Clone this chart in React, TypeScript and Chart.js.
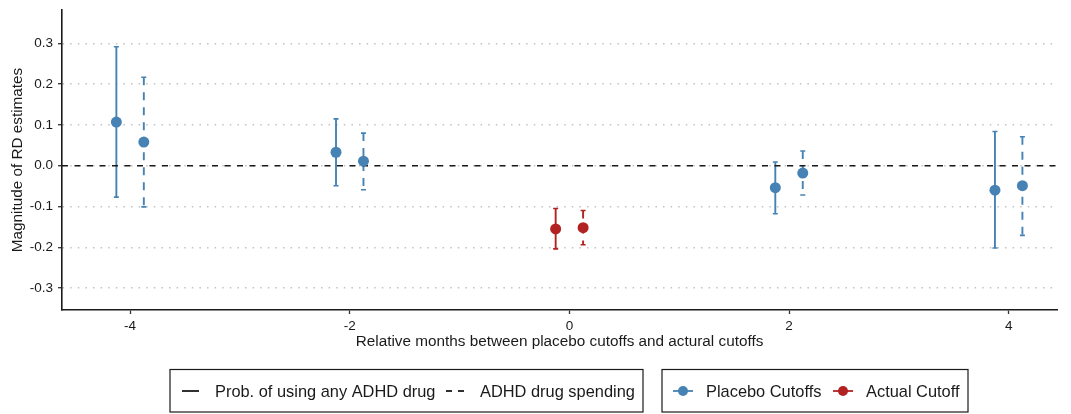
import { useEffect, useRef } from "react";
import { Chart, registerables } from "chart.js";

Chart.register(...registerables);

// Cutoff positions (months relative to the actual cutoff) and their kind
const cutoffMonths = [-4, -2, 0, 2, 4];
const cutoffKind = ["placebo", "placebo", "actual", "placebo", "placebo"];

// RD estimates with confidence bounds: probability of using any ADHD drug
const anyDrugEst = [0.107, 0.033, -0.155, -0.054, -0.06];
const anyDrugLow = [-0.077, -0.049, -0.204, -0.118, -0.202];
const anyDrugHigh = [0.292, 0.115, -0.105, 0.009, 0.084];

// RD estimates with confidence bounds: ADHD drug spending
const spendEst = [0.058, 0.011, -0.152, -0.018, -0.049];
const spendLow = [-0.101, -0.059, -0.194, -0.072, -0.171];
const spendHigh = [0.217, 0.08, -0.11, 0.036, 0.071];

// Axis ticks
const xTicks = [-4, -2, 0, 2, 4];
const yTicks = [-0.3, -0.2, -0.1, 0, 0.1, 0.2, 0.3];

const lineLegend = ["Prob. of using any ADHD drug", "ADHD drug spending"];
const colorLegend = ["Placebo Cutoffs", "Actual Cutoff"];

const BLUE = "#4682B4";
const RED = "#B22222";
const INK = "#1a1a1a";
const FONT = '"Liberation Sans", Arial, Helvetica, sans-serif';
const DODGE = 0.125;
const X_MIN = -4.62;
const X_MAX = 4.44;

const kindColor = (k: string) => (k === "actual" ? RED : BLUE);

const makePoints = (est: number[], lo: number[], hi: number[], shift: number) =>
  cutoffMonths.map((m, i) => ({ x: m + shift, y: est[i], lo: lo[i], hi: hi[i] }));

// Draws vertical confidence intervals with small caps beneath the points
const errorBarPlugin = {
  id: "errorBars",
  beforeDatasetsDraw(chart: any) {
    const { ctx, scales } = chart;
    const xs = scales.x;
    const ys = scales.y;
    chart.data.datasets.forEach((ds: any) => {
      if (!ds.errorDash) return;
      ds.data.forEach((pt: any, i: number) => {
        const px = xs.getPixelForValue(pt.x);
        const top = ys.getPixelForValue(pt.hi);
        const bot = ys.getPixelForValue(pt.lo);
        ctx.save();
        ctx.strokeStyle = kindColor(cutoffKind[i]);
        ctx.lineWidth = 1.9;
        ctx.setLineDash(ds.errorDash);
        ctx.beginPath();
        ctx.moveTo(px, top);
        ctx.lineTo(px, bot);
        ctx.stroke();
        ctx.setLineDash([]);
        ctx.lineWidth = 1.6;
        ctx.beginPath();
        ctx.moveTo(px - 2.5, top);
        ctx.lineTo(px + 2.5, top);
        ctx.moveTo(px - 2.5, bot);
        ctx.lineTo(px + 2.5, bot);
        ctx.stroke();
        ctx.restore();
      });
    });
  },
};

// Two framed legends below the plot: line type and cutoff colour
const legendPlugin = {
  id: "framedLegend",
  afterDraw(chart: any) {
    const { ctx } = chart;
    const yMid = 391;
    ctx.save();
    ctx.font = `16.4px ${FONT}`;
    ctx.fillStyle = INK;
    ctx.textBaseline = "alphabetic";

    // frames
    ctx.strokeStyle = INK;
    ctx.lineWidth = 1.2;
    ctx.strokeRect(170, 369.5, 473, 42.5);
    ctx.strokeRect(662, 369.5, 306, 42.5);

    // linetype keys
    ctx.strokeStyle = INK;
    ctx.lineWidth = 1.8;
    ctx.beginPath();
    ctx.moveTo(182, yMid);
    ctx.lineTo(199, yMid);
    ctx.stroke();
    ctx.fillText(lineLegend[0], 215, yMid + 6);

    ctx.setLineDash([6, 6]);
    ctx.beginPath();
    ctx.moveTo(446, yMid);
    ctx.lineTo(465, yMid);
    ctx.stroke();
    ctx.setLineDash([]);
    ctx.fillText(lineLegend[1], 480, yMid + 6);

    // colour keys
    const keys = [
      { x0: 673, color: BLUE, tx: 706, label: colorLegend[0] },
      { x0: 833, color: RED, tx: 866, label: colorLegend[1] },
    ];
    keys.forEach((k) => {
      ctx.strokeStyle = k.color;
      ctx.fillStyle = k.color;
      ctx.lineWidth = 1.8;
      ctx.beginPath();
      ctx.moveTo(k.x0, yMid);
      ctx.lineTo(k.x0 + 20, yMid);
      ctx.stroke();
      ctx.beginPath();
      ctx.arc(k.x0 + 10, yMid, 5, 0, Math.PI * 2);
      ctx.fill();
      ctx.fillStyle = INK;
      ctx.fillText(k.label, k.tx, yMid + 6);
    });
    ctx.restore();
  },
};

export default function App() {
  const canvasRef = useRef<HTMLCanvasElement | null>(null);

  useEffect(() => {
    document.body.style.margin = "0";
    const canvas = canvasRef.current;
    if (!canvas) return;

    const chart = new Chart(canvas, {
      type: "scatter",
      data: {
        datasets: [
          {
            type: "line",
            label: "zero",
            data: [
              { x: X_MIN, y: 0 },
              { x: X_MAX, y: 0 },
            ],
            borderColor: INK,
            borderWidth: 1.5,
            borderDash: [6, 6.5],
            pointRadius: 0,
            order: 10,
          } as any,
          {
            label: lineLegend[0],
            data: makePoints(anyDrugEst, anyDrugLow, anyDrugHigh, -DODGE),
            pointRadius: 5.5,
            pointBorderWidth: 0,
            pointBackgroundColor: cutoffKind.map(kindColor),
            errorDash: [],
            order: 0,
          } as any,
          {
            label: lineLegend[1],
            data: makePoints(spendEst, spendLow, spendHigh, DODGE),
            pointRadius: 5.5,
            pointBorderWidth: 0,
            pointBackgroundColor: cutoffKind.map(kindColor),
            errorDash: [8, 7],
            order: 0,
          } as any,
        ],
      },
      options: {
        responsive: false,
        animation: false,
        devicePixelRatio: 1,
        layout: { padding: { top: 10, right: 14, bottom: 60, left: 0 } },
        plugins: {
          legend: { display: false },
          tooltip: { enabled: false },
        },
        scales: {
          x: {
            type: "linear",
            min: X_MIN,
            max: X_MAX,
            afterBuildTicks: (scale: any) => {
              scale.ticks = xTicks.map((v) => ({ value: v }));
            },
            afterFit: (scale: any) => {
              scale.height = 44;
              scale.paddingLeft = 0;
              scale.paddingRight = 0;
            },
            ticks: {
              color: INK,
              font: { family: FONT, size: 13.5 },
              padding: 4,
              maxRotation: 0,
              callback: (v: any) => String(v),
            },
            grid: {
              display: true,
              drawOnChartArea: false,
              drawTicks: true,
              tickLength: 4,
              tickColor: "#333",
              tickWidth: 1.3,
            },
            border: { display: true, color: INK, width: 1.6 },
            title: {
              display: true,
              text: "Relative months between placebo cutoffs and actural cutoffs",
              color: INK,
              font: { family: FONT, size: 15.3 },
              padding: { top: 0, bottom: 3 },
            },
          },
          y: {
            type: "linear",
            min: -0.354,
            max: 0.382,
            afterBuildTicks: (scale: any) => {
              scale.ticks = yTicks.map((v) => ({ value: v }));
            },
            afterFit: (scale: any) => {
              scale.width = 62;
              scale.paddingTop = 0;
              scale.paddingBottom = 0;
            },
            ticks: {
              color: INK,
              font: { family: FONT, size: 13.5 },
              padding: 5,
              callback: (v: any) => Number(v).toFixed(1),
            },
            grid: {
              display: true,
              drawOnChartArea: true,
              drawTicks: true,
              color: "#c2c2c2",
              lineWidth: 1.4,
              tickLength: 4,
              tickColor: "#333",
              tickWidth: 1.3,
              tickBorderDash: [],
            },
            border: { display: true, color: INK, width: 1.6, dash: [1.5, 6.1] },
            title: {
              display: true,
              text: "Magnitude of RD estimates",
              color: INK,
              font: { family: FONT, size: 15.3 },
              padding: { top: 9, bottom: 0 },
            },
          },
        },
      } as any,
      plugins: [errorBarPlugin, legendPlugin],
    });

    return () => chart.destroy();
  }, []);

  return (
    <div style={{ width: 1071, height: 414 }}>
      <canvas ref={canvasRef} width={1071} height={414} />
    </div>
  );
}
